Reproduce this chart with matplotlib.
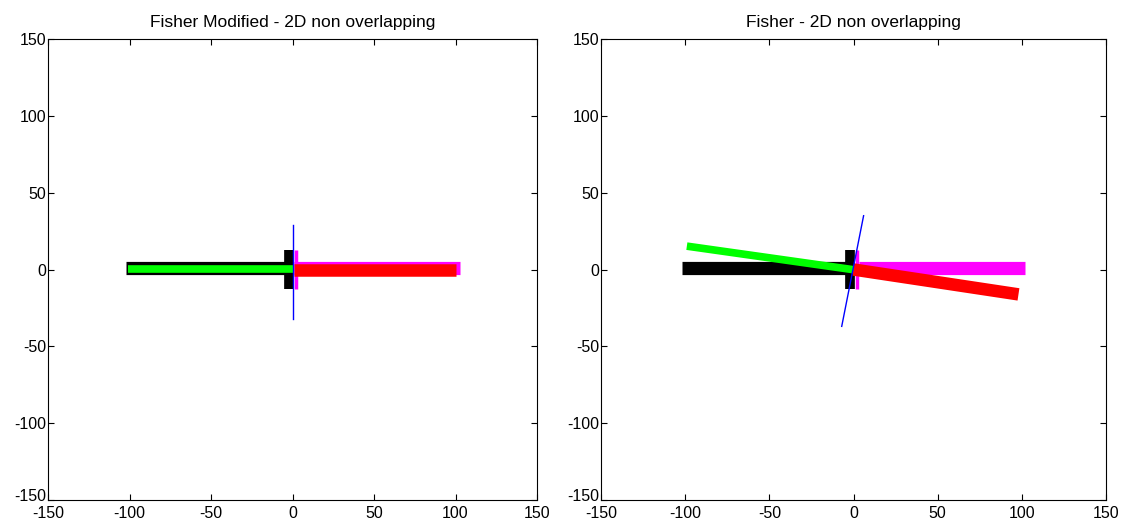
import matplotlib.pyplot as plt
import matplotlib.transforms as mtransforms

# Axis limits / ticks
LIM = 150
TICKS = [-150, -100, -50, 0, 50, 100, 150]

TITLES = ["Fisher Modified - 2D non overlapping", "Fisher - 2D non overlapping"]

# Left panel: segment endpoints (x, y) for each class band
mod_black_x = [-102, -3]
mod_black_y = [0.9, 0.9]
mod_black_blob_x = [-2.3, -2.3]
mod_black_blob_y = [-13, 13]
mod_magenta_x = [1, 103]
mod_magenta_y = [1.0, 1.0]
mod_magenta_blob_x = [2.3, 2.3]
mod_magenta_blob_y = [-13, 13]
mod_green_x = [-101, 0]
mod_green_y = [0.4, 0.4]
mod_red_x = [1, 100]
mod_red_y = [-0.1, -0.1]
mod_blue_x = [0, 0]
mod_blue_y = [-32, 29]

# Right panel
fis_black_x = [-102, -4]
fis_black_y = [0.9, 0.9]
fis_black_blob_x = [-2.3, -2.3]
fis_black_blob_y = [-13, 13]
fis_magenta_x = [3, 102]
fis_magenta_y = [1.0, 1.0]
fis_magenta_blob_x = [2.3, 2.3]
fis_magenta_blob_y = [-13, 13]
fis_green_x = [-99, 1]
fis_green_y = [15.2, -0.3]
fis_red_x = [0, 98]
fis_red_y = [0.0, -16.2]
fis_blue_x = [-7, 6]
fis_blue_y = [-37, 35]


def draw_panel(ax, title, black, black_blob, magenta, magenta_blob, green, red, blue):
    ax.plot(*black, color='black', lw=9.5, solid_capstyle='butt')
    ax.plot(*black_blob, color='black', lw=7, solid_capstyle='butt')
    ax.plot(*magenta, color='magenta', lw=9.5, solid_capstyle='butt')
    ax.plot(*magenta_blob, color='magenta', lw=2.5, solid_capstyle='butt')
    ax.plot(*green, color='#00ff00', lw=5.5, solid_capstyle='butt')
    ax.plot(*red, color='red', lw=9, solid_capstyle='butt')
    ax.plot(*blue, color='blue', lw=1.0)
    ax.set_xlim(-LIM, LIM)
    ax.set_ylim(-LIM, LIM)
    ax.set_xticks(TICKS)
    ax.set_yticks(TICKS)
    ax.tick_params(direction='in', top=True, right=True, length=4, width=0.8,
                   labelsize=11.5)
    ax.tick_params(axis='x', pad=4)
    ax.tick_params(axis='y', pad=1)
    for s in ax.spines.values():
        s.set_linewidth(0.8)
    ax.set_title(title, fontsize=12.5, pad=9)
    # lift the bottom y label a little so it clears the x label below it
    lbl = ax.get_yticklabels()[0]
    lbl.set_transform(lbl.get_transform() +
                      mtransforms.ScaledTranslation(0, 5 / 100, ax.figure.dpi_scale_trans))


plt.rcParams['font.family'] = ['Liberation Sans', 'DejaVu Sans']
plt.rcParams['axes.unicode_minus'] = False
fig = plt.figure(figsize=(11.23, 5.27), dpi=100)
ax1 = fig.add_axes([48 / 1123, 27 / 527, 489 / 1123, 461 / 527])
ax2 = fig.add_axes([601 / 1123, 27 / 527, 505 / 1123, 461 / 527])

draw_panel(ax1, TITLES[0],
           (mod_black_x, mod_black_y), (mod_black_blob_x, mod_black_blob_y),
           (mod_magenta_x, mod_magenta_y), (mod_magenta_blob_x, mod_magenta_blob_y),
           (mod_green_x, mod_green_y), (mod_red_x, mod_red_y), (mod_blue_x, mod_blue_y))
draw_panel(ax2, TITLES[1],
           (fis_black_x, fis_black_y), (fis_black_blob_x, fis_black_blob_y),
           (fis_magenta_x, fis_magenta_y), (fis_magenta_blob_x, fis_magenta_blob_y),
           (fis_green_x, fis_green_y), (fis_red_x, fis_red_y), (fis_blue_x, fis_blue_y))

fig.savefig('out.png', dpi=100)
